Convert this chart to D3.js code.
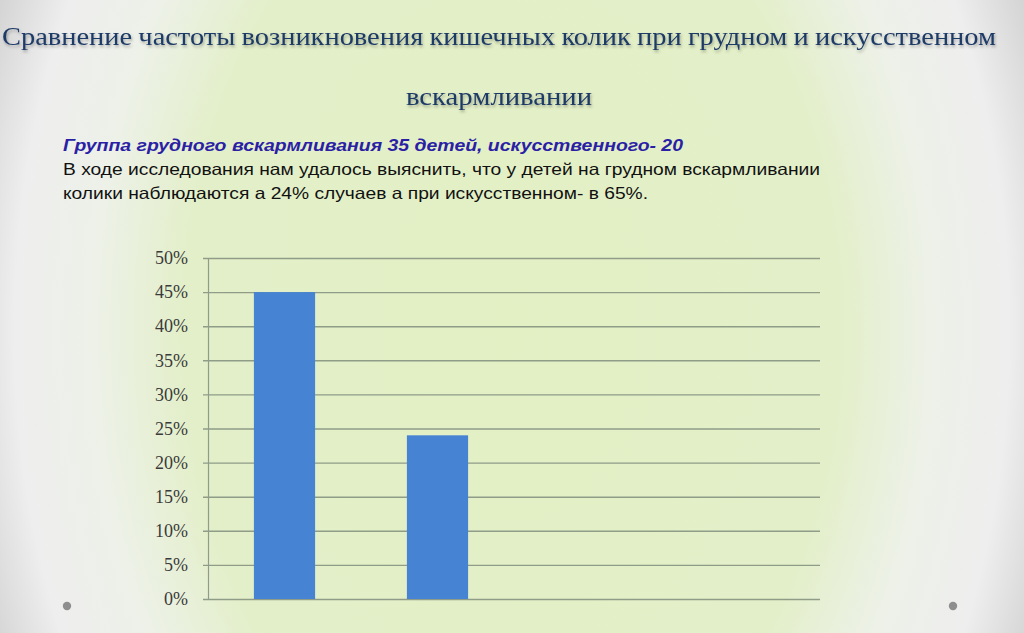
<!DOCTYPE html>
<html><head><meta charset="utf-8">
<script src="https://cdn.jsdelivr.net/npm/d3@7/dist/d3.min.js"></script>
<style>html,body{margin:0;padding:0;overflow:hidden;background:#fff}</style>
</head><body>
<svg id="c" width="1024" height="633"></svg>
<script>
// ---- data ----
const categories = ["Грудное вскармливание", "Искусственное вскармливание", "Категория 3", "Категория 4"];
const values = [0.45, 0.24, null, null];
const yTicks = [0, 0.05, 0.10, 0.15, 0.20, 0.25, 0.30, 0.35, 0.40, 0.45, 0.50];
const titleLines = ["Сравнение частоты возникновения кишечных колик при грудном и искусственном", "вскармливании"];
const subtitle = "Группа грудного вскармливания 35 детей, искусственного- 20";
const bodyLines = ["В ходе исследования нам удалось выяснить, что у детей на грудном вскармливании", "колики наблюдаются а 24% случаев а при искусственном- в 65%."];

const W = 1024, H = 633;
const svg = d3.select("#c");
const defs = svg.append("defs");
const rg = defs.append("radialGradient").attr("id","bg").attr("gradientUnits","userSpaceOnUse")
  .attr("cx",512).attr("cy",330).attr("r",565)
  .attr("gradientTransform","translate(512,330) scale(1,1.45) translate(-512,-330)");
rg.append("stop").attr("offset","0%").attr("stop-color","#e3f0c4");
rg.append("stop").attr("offset","58%").attr("stop-color","#e3efc9");
rg.append("stop").attr("offset","74%").attr("stop-color","#edf1e8");
rg.append("stop").attr("offset","88%").attr("stop-color","#eeeeee");
rg.append("stop").attr("offset","100%").attr("stop-color","#d2d2d2");
svg.append("rect").attr("width",W).attr("height",H).attr("fill","url(#bg)");

const sh = defs.append("filter").attr("id","ts").attr("x","-5%").attr("y","-30%").attr("width","110%").attr("height","160%");
sh.append("feDropShadow").attr("dx",1).attr("dy",2).attr("stdDeviation",1.5).attr("flood-color","#000").attr("flood-opacity",0.3);

// decorative dots
svg.selectAll("circle.dot").data([67, 953]).join("circle").attr("class","dot")
  .attr("cx",d=>d).attr("cy",606).attr("r",4.2).attr("fill","#8e8e8e");

// title
const tfont = "Cambria, 'Liberation Serif', 'DejaVu Serif', serif";
svg.append("text").text(titleLines[0]).attr("x",2).attr("y",45)
  .attr("textLength",994).attr("lengthAdjust","spacingAndGlyphs")
  .attr("font-family",tfont).attr("font-size",26).attr("fill","#1f3a66").attr("filter","url(#ts)");
svg.append("text").text(titleLines[1]).attr("x",406).attr("y",105)
  .attr("textLength",186).attr("lengthAdjust","spacingAndGlyphs")
  .attr("font-family",tfont).attr("font-size",26).attr("fill","#1f3a66").attr("filter","url(#ts)");

// subtitle + body
const sfont = "'Liberation Sans', Arial, sans-serif";
svg.append("text").text(subtitle).attr("x",63).attr("y",151)
  .attr("textLength",620).attr("lengthAdjust","spacingAndGlyphs")
  .attr("font-family",sfont).attr("font-size",16.5).attr("font-weight","bold").attr("font-style","italic").attr("fill","#2b1fa6");
const bodyLens = [757, 585];
bodyLines.forEach((t,i)=>{
  svg.append("text").text(t).attr("x",63).attr("y",175+i*24)
    .attr("textLength",bodyLens[i]).attr("lengthAdjust","spacingAndGlyphs")
    .attr("font-family",sfont).attr("font-size",16.5).attr("fill","#111");
});

// chart
const x = d3.scaleBand().domain(categories).range([208, 820]).paddingInner(0.6).paddingOuter(0.3);
const y = d3.scaleLinear().domain([0, 0.5]).range([599, 258]);
const g = svg.append("g");

const grid = g.append("g").attr("transform","translate(208,0)")
  .call(d3.axisLeft(y).tickValues(yTicks).tickSize(5).tickFormat(d3.format(".0%")).tickPadding(15))
  .attr("font-family","'Liberation Serif', serif");
grid.select(".domain").attr("stroke","#8f9c88").attr("stroke-width",1.2);
grid.selectAll(".tick line").attr("stroke","#8f9c88").attr("stroke-width",1.4)
  .attr("x1",612).attr("x2",-5);
grid.selectAll(".tick text").attr("font-family","'Liberation Serif', serif").attr("font-size",18).attr("fill","#3a3a3a");

g.selectAll("rect.bar").data(categories.map((c,i)=>({c, v: values[i]})).filter(d=>d.v!=null))
  .join("rect").attr("class","bar")
  .attr("x",d=>x(d.c)).attr("width",x.bandwidth())
  .attr("y",d=>y(d.v)).attr("height",d=>y(0)-y(d.v))
  .attr("fill","#4683d3");
</script>
</body></html>
